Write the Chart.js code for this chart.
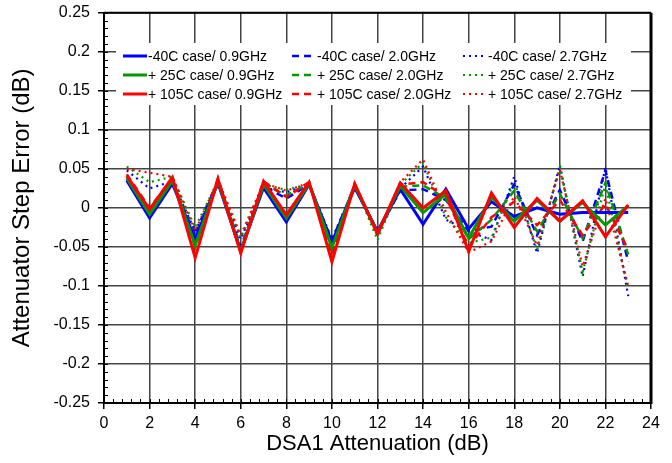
<!DOCTYPE html>
<html>
<head>
<meta charset="utf-8">
<style>
  body { margin: 0; background: #fff; }
  #wrap { width: 672px; height: 463px; }
</style>
<script src="https://cdn.jsdelivr.net/npm/chart.js@4.4.1/dist/chart.umd.min.js"></script>
</head>
<body>
<div id="wrap"><canvas id="chart" width="672" height="463"></canvas></div>
<script>
// DSA1 attenuation states (dB)
const attenuation = [1, 2, 3, 4, 5, 6, 7, 8, 9, 10, 11, 12, 13, 14, 15, 16, 17, 18, 19, 20, 21, 22, 23];

// 0.9 GHz
const m40_09 = [0.035, -0.013, 0.031, -0.040, 0.032, -0.055, 0.026, -0.018, 0.030, -0.044, 0.026, -0.030, 0.024, -0.021, 0.024, -0.027, 0.008, -0.011, 0.000, -0.008, -0.006, -0.006, -0.006];
const p25_09 = [0.038, -0.008, 0.035, -0.048, 0.034, -0.056, 0.030, -0.013, 0.031, -0.051, 0.029, -0.032, 0.028, -0.006, 0.018, -0.039, 0.014, -0.017, 0.010, -0.017, 0.007, -0.022, 0.003];
const p105_09 = [0.041, -0.002, 0.039, -0.064, 0.037, -0.058, 0.034, -0.009, 0.033, -0.069, 0.031, -0.033, 0.032, 0.000, 0.022, -0.056, 0.019, -0.025, 0.012, -0.017, 0.009, -0.037, 0.004];

// 2.0 GHz
const m40_20 = [0.037, -0.010, 0.032, -0.035, 0.034, -0.050, 0.028, 0.012, 0.030, -0.042, 0.028, -0.030, 0.022, 0.024, 0.010, -0.030, -0.024, 0.030, -0.035, 0.023, -0.043, 0.048, -0.069];
const p25_20 = [0.040, -0.005, 0.036, -0.040, 0.035, -0.052, 0.031, 0.016, 0.031, -0.048, 0.030, -0.033, 0.027, 0.029, 0.012, -0.040, -0.015, 0.022, -0.030, 0.018, -0.039, 0.032, -0.060];
const p105_20 = [0.043, 0.000, 0.038, -0.050, 0.038, -0.055, 0.034, 0.014, 0.033, -0.060, 0.031, -0.034, 0.030, 0.033, 0.014, -0.050, -0.012, 0.008, -0.022, 0.010, -0.035, 0.005, -0.054];

// 2.7 GHz
const m40_27 = [0.048, 0.025, 0.034, -0.030, 0.030, -0.040, 0.026, 0.020, 0.030, -0.040, 0.028, -0.035, 0.025, 0.053, -0.015, -0.030, -0.041, 0.040, -0.058, 0.055, -0.088, 0.052, -0.113];
const p25_27 = [0.053, 0.033, 0.040, -0.025, 0.034, -0.038, 0.030, 0.023, 0.031, -0.045, 0.030, -0.041, 0.030, 0.058, -0.012, -0.045, -0.038, 0.034, -0.054, 0.052, -0.082, 0.030, -0.105];
const p105_27 = [0.050, 0.045, 0.040, -0.030, 0.036, -0.035, 0.032, 0.022, 0.032, -0.055, 0.031, -0.036, 0.033, 0.062, -0.005, -0.057, -0.043, 0.015, -0.048, 0.049, -0.075, 0.012, -0.100];

const legendLabels = [
  ["-40C case/ 0.9GHz", "-40C case/ 2.0GHz", "-40C case/ 2.7GHz"],
  ["+ 25C case/ 0.9GHz", "+ 25C case/ 2.0GHz", "+ 25C case/ 2.7GHz"],
  ["+ 105C case/ 0.9GHz", "+ 105C case/ 2.0GHz", "+ 105C case/ 2.7GHz"]
];

const BLUE = "#0000ff", GREEN = "#009a00", RED = "#ff0000";
const FONT = "'Liberation Sans', Arial, Helvetica, sans-serif";

function pts(vals) {
  return attenuation.map((a, i) => ({ x: a, y: vals[i] }));
}

function ds(label, vals, color, dash, width, row, col) {
  return {
    label: label,
    data: pts(vals),
    borderColor: color,
    backgroundColor: color,
    borderWidth: width,
    borderDash: dash,
    pointRadius: 0,
    tension: 0,
    fill: false,
    legendRow: row,
    legendCol: col
  };
}

// first dataset is drawn on top
const datasets = [
  ds(legendLabels[2][0], p105_09, RED, [], 3, 2, 0),
  ds(legendLabels[1][0], p25_09, GREEN, [], 3, 1, 0),
  ds(legendLabels[0][0], m40_09, BLUE, [], 3, 0, 0),
  ds(legendLabels[2][1], p105_20, RED, [7, 5], 2.5, 2, 1),
  ds(legendLabels[1][1], p25_20, GREEN, [7, 5], 2.5, 1, 1),
  ds(legendLabels[0][1], m40_20, BLUE, [7, 5], 2.5, 0, 1),
  ds(legendLabels[2][2], p105_27, RED, [2, 4], 2.2, 2, 2),
  ds(legendLabels[1][2], p25_27, GREEN, [2, 4], 2.2, 1, 2),
  ds(legendLabels[0][2], m40_27, BLUE, [2, 4], 2.2, 0, 2)
];

// minor ticks, frame and the in-plot legend
const framePlugin = {
  id: "frame",
  afterDraw(chart) {
    const ctx = chart.ctx;
    const xs = chart.scales.x, ys = chart.scales.y;
    const a = chart.chartArea;
    ctx.save();
    ctx.strokeStyle = "#000";
    ctx.lineWidth = 1;
    // minor ticks inside the left axis
    for (let v = -0.25; v <= 0.2501; v += 0.01) {
      const y = Math.round(ys.getPixelForValue(v)) + 0.5;
      ctx.beginPath();
      ctx.moveTo(a.left, y);
      ctx.lineTo(a.left + 4, y);
      ctx.stroke();
    }
    // minor ticks inside the bottom axis
    for (let v = 0; v <= 24.001; v += 0.4) {
      const x = Math.round(xs.getPixelForValue(v)) + 0.5;
      ctx.beginPath();
      ctx.moveTo(x, a.bottom);
      ctx.lineTo(x, a.bottom - 4);
      ctx.stroke();
    }
    // frame
    ctx.lineWidth = 2;
    ctx.beginPath();
    ctx.moveTo(a.left, a.top);
    ctx.lineTo(a.right, a.top);
    ctx.moveTo(a.left, a.top);
    ctx.lineTo(a.left, a.bottom);
    ctx.lineTo(a.right, a.bottom);
    ctx.stroke();
    ctx.lineWidth = 3;
    ctx.beginPath();
    ctx.moveTo(a.right, a.top);
    ctx.lineTo(a.right, a.bottom + 1);
    ctx.stroke();

    // legend box
    ctx.fillStyle = "#fff";
    ctx.fillRect(116, 43, 515, 62);
    const colX = [123, 292, 463];
    const rowY = [56, 75, 94];
    ctx.font = "14px " + FONT;
    ctx.textBaseline = "middle";
    ctx.textAlign = "left";
    chart.data.datasets.forEach(d => {
      const x = colX[d.legendCol], y = rowY[d.legendRow];
      ctx.strokeStyle = d.borderColor;
      ctx.lineWidth = d.borderWidth;
      ctx.setLineDash(d.borderDash);
      ctx.beginPath();
      ctx.moveTo(x, y);
      ctx.lineTo(x + 24, y);
      ctx.stroke();
      ctx.setLineDash([]);
      ctx.fillStyle = "#000";
      ctx.fillText(d.label, x + 25, y + 1);
    });
    ctx.restore();
  }
};

const ctx = document.getElementById("chart").getContext("2d");
new Chart(ctx, {
  type: "line",
  data: { datasets: datasets },
  options: {
    responsive: false,
    animation: false,
    layout: { padding: { top: 12, right: 21, left: 0, bottom: 0 } },
    plugins: {
      legend: { display: false },
      tooltip: { enabled: false }
    },
    scales: {
      x: {
        type: "linear",
        min: 0,
        max: 24,
        afterFit(scale) { scale.height = 60; },
        ticks: {
          stepSize: 2,
          color: "#000",
          font: { family: FONT, size: 16 },
          padding: 5,
          maxRotation: 0
        },
        grid: { color: "#444", lineWidth: 1.5, tickLength: 6, tickColor: "#000" },
        border: { display: true, color: "#000", width: 2 },
        title: {
          display: true,
          text: "DSA1 Attenuation (dB)",
          color: "#000",
          font: { family: FONT, size: 22 },
          padding: { top: 0, bottom: 6 }
        }
      },
      y: {
        min: -0.25,
        max: 0.25,
        afterFit(scale) { scale.width = 104; },
        ticks: {
          stepSize: 0.05,
          color: "#000",
          font: { family: FONT, size: 16, lineHeight: 0.6 },
          padding: 8,
          callback: v => String(Math.round(v * 100) / 100)
        },
        grid: { color: "#444", lineWidth: 1.5, tickLength: 6, tickColor: "#000" },
        border: { display: true, color: "#000", width: 2 },
        title: {
          display: true,
          text: "Attenuator Step Error (dB)",
          color: "#000",
          font: { family: FONT, size: 24 },
          padding: { top: 8, bottom: 0 }
        }
      }
    }
  },
  plugins: [framePlugin]
});
</script>
</body>
</html>
